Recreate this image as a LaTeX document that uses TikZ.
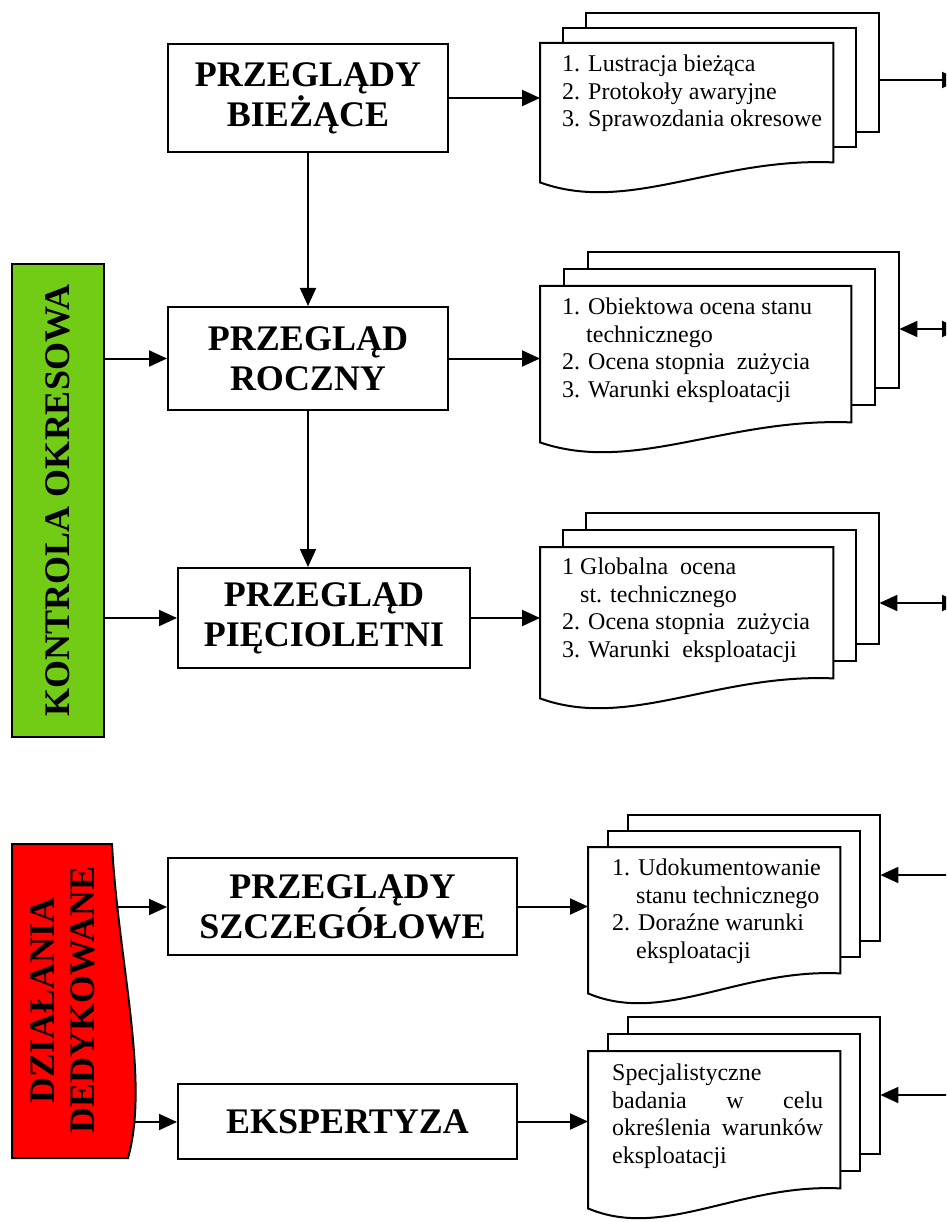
\documentclass[tikz,border=0pt]{standalone}
\usepackage{fontspec}
\setmainfont{Liberation Serif}
\usetikzlibrary{arrows.meta,calc,positioning}
\definecolor{okgreen}{RGB}{114,204,22}
\definecolor{dedred}{RGB}{255,0,0}

\begin{document}
\begin{tikzpicture}[x=1pt,y=-1pt,
  box/.style={draw,line width=2pt,fill=white,align=center,inner sep=0pt,font=\bfseries\fontsize{36}{40}\selectfont},
  sheet/.style={draw,line width=2pt,fill=white,inner sep=0pt},
  arr/.style={line width=2pt,-{Triangle[length=18pt,width=16pt]}},
  darr/.style={line width=2pt,{Triangle[length=18pt,width=16pt]}-{Triangle[length=18pt,width=16pt]}},
  doctext/.style={inner sep=0pt,align=left,font=\fontsize{24}{27.5}\selectfont}]
  \useasboundingbox (0,0) rectangle (946,1222);
  \clip (0,0) rectangle (946,1222);
  % left bars
  \node[draw,line width=2pt,fill=okgreen,minimum width=92pt,minimum height=473pt] (ko) at (58,500.5) {};
  \node[rotate=90,font=\bfseries\fontsize{36}{40}\selectfont] (kot) at (ko) {KONTROLA OKRESOWA};
  \draw[line width=2pt,fill=dedred] (12,844) -- (112,844) .. controls (118,960) and (150,1080) .. (128,1158) -- (12,1158) -- cycle;
  \node[rotate=90,align=center,font=\bfseries\fontsize{36}{40}\selectfont] (dd) at (63,1000) {DZIAŁANIA\\DEDYKOWANE};
  \coordinate (dd1) at (116,907);
  \coordinate (dd2) at (135,1122);
  % main boxes
  \node[box,minimum width=280pt,minimum height=108pt] (pb) at (308,98) {PRZEGLĄDY\\BIEŻĄCE};
  \node[box,minimum width=280pt,minimum height=103pt] (pr) at (308,358.5) {PRZEGLĄD\\ROCZNY};
  \node[box,minimum width=292pt,minimum height=100pt] (pp) at (324,618) {PRZEGLĄD\\PIĘCIOLETNI};
  \node[box,minimum width=349pt,minimum height=97pt] (ps) at (342.5,906.5) {PRZEGLĄDY\\SZCZEGÓŁOWE};
  \node[box,minimum width=339pt,minimum height=75pt] (ek) at (347.5,1121.5) {EKSPERTYZA};
  % document stacks
  \node[inner sep=0pt,minimum width=293pt,minimum height=119pt,anchor=north west] (d1) at (540,43) {};
  \node[inner sep=0pt,minimum width=311pt,minimum height=136pt,anchor=north west] (d2) at (540,286) {};
  \node[inner sep=0pt,minimum width=293pt,minimum height=131pt,anchor=north west] (d3) at (540,547) {};
  \node[inner sep=0pt,minimum width=252pt,minimum height=126pt,anchor=north west] (d4) at (588,847) {};
  \node[inner sep=0pt,minimum width=252pt,minimum height=137pt,anchor=north west] (d5) at (588,1051) {};
  \foreach \n/\dx/\dy in {d1/23/-15,d2/24/-17,d3/23/-17,d4/20/-16,d5/20/-17}{
    \draw[sheet] ($(\n.north west)+({2*\dx},{2*\dy})$) rectangle ($(\n.south east)+({2*\dx},{2*\dy})$);
    \draw[sheet] ($(\n.north west)+(\dx,\dy)$) rectangle ($(\n.south east)+(\dx,\dy)$);
    \draw[sheet] ($(\n.south west)+(0,20)$) -- (\n.north west) -- (\n.north east) -- (\n.south east) .. controls ($(\n.south west)!0.6!(\n.south east)+(0,-5)$) and ($(\n.south west)!0.3!(\n.south east)+(0,52)$) .. ($(\n.south west)+(0,20)$) -- cycle;
    \coordinate (\n r) at ($(\n.north east)+({2*\dx},0)$);
  }
  \node[doctext,below right=12pt and 22pt of d1.north west] (t1) {1. Lustracja bieżąca\\2. Protokoły awaryjne\\3. Sprawozdania okresowe};
  \node[doctext,below right=12pt and 22pt of d2.north west] (t2) {1. Obiektowa ocena stanu\\\hspace*{24pt}technicznego\\2. Ocena stopnia\ \ zużycia\\3. Warunki eksploatacji};
  \node[doctext,below right=11pt and 22pt of d3.north west] (t3) {1 Globalna\ \ ocena\\\hspace*{18pt}st. technicznego\\2. Ocena stopnia\ \ zużycia\\3. Warunki\ \ eksploatacji};
  \node[doctext,below right=12pt and 24pt of d4.north west] (t4) {1. Udokumentowanie\\\hspace*{24pt}stanu technicznego\\2. Doraźne warunki\\\hspace*{24pt}eksploatacji};
  \node[doctext,below right=13pt and 24pt of d5.north west] (t5) {Specjalistyczne\\\makebox[211pt][s]{badania w celu}\\\makebox[211pt][s]{określenia warunków}\\eksploatacji};
  % connectors
  \draw[arr] (pb) -- (pr);
  \draw[arr] (pr.south) -- (pr.south |- pp.north);
  \draw[arr] (ko.east |- pr) -- (pr);
  \draw[arr] (ko.east |- pp) -- (pp);
  \draw[arr] (dd1) -- (dd1 -| ps.west);
  \draw[arr] (dd2) -- (dd2 -| ek.west);
  \draw[arr] (pb) -- (pb -| d1.west);
  \draw[arr] (pr) -- (pr -| d2.west);
  \draw[arr] (pp) -- (pp -| d3.west);
  \draw[arr] (ps) -- (ps -| d4.west);
  \draw[arr] (ek) -- (ek -| d5.west);
  \coordinate (o1) at (960,80);
  \coordinate (o2) at (960,329);
  \coordinate (o3) at (960,603);
  \coordinate (o4) at (960,875);
  \coordinate (o5) at (960,1095);
  \draw[arr] (d1r |- o1) -- (o1);
  \draw[darr] (d2r |- o2) -- (o2);
  \draw[darr] (d3r |- o3) -- (o3);
  \draw[arr] (o4) -- (d4r |- o4);
  \draw[arr] (o5) -- (d5r |- o5);
\end{tikzpicture}
\end{document}
